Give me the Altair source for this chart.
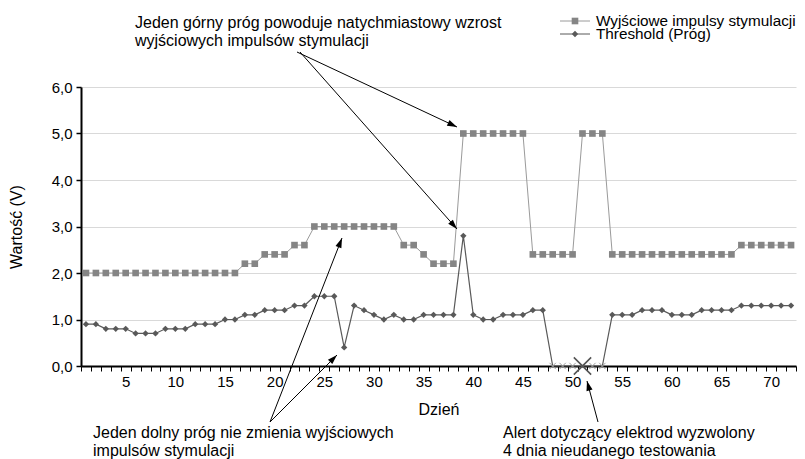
import math
import altair as alt
import pandas as pd

# ---------------- data ----------------
days = list(range(1, 73))
output_v = [
    2.0, 2.0, 2.0, 2.0, 2.0, 2.0, 2.0, 2.0, 2.0, 2.0, 2.0, 2.0, 2.0, 2.0, 2.0, 2.0,
    2.2, 2.2, 2.4, 2.4, 2.4, 2.6, 2.6,
    3.0, 3.0, 3.0, 3.0, 3.0, 3.0, 3.0, 3.0, 3.0,
    2.6, 2.6, 2.4, 2.2, 2.2, 2.2,
    5.0, 5.0, 5.0, 5.0, 5.0, 5.0, 5.0,
    2.4, 2.4, 2.4, 2.4, 2.4,
    5.0, 5.0, 5.0,
    2.4, 2.4, 2.4, 2.4, 2.4, 2.4, 2.4, 2.4, 2.4, 2.4, 2.4, 2.4, 2.4,
    2.6, 2.6, 2.6, 2.6, 2.6, 2.6,
]
threshold_v = [
    0.9, 0.9, 0.8, 0.8, 0.8, 0.7, 0.7, 0.7, 0.8, 0.8, 0.8, 0.9, 0.9, 0.9, 1.0, 1.0,
    1.1, 1.1, 1.2, 1.2, 1.2, 1.3, 1.3,
    1.5, 1.5, 1.5, 0.4, 1.3, 1.2, 1.1, 1.0, 1.1,
    1.0, 1.0, 1.1, 1.1, 1.1, 1.1,
    2.8, 1.1, 1.0, 1.0, 1.1, 1.1, 1.1,
    1.2, 1.2, 0.0, 0.0, 0.0,
    0.0, 0.0, 0.0,
    1.1, 1.1, 1.1, 1.2, 1.2, 1.2, 1.1, 1.1, 1.1, 1.2, 1.2, 1.2, 1.2,
    1.3, 1.3, 1.3, 1.3, 1.3, 1.3,
]
failed_days = [48, 49, 50, 51, 52, 53]
alert_days = [51]
alert_values = [0.0]
series_names = ["Wyjściowe impulsy stymulacji", "Threshold (Próg)"]
y_ticks = [0, 1, 2, 3, 4, 5, 6]
top_note = ["Jeden górny próg powoduje natychmiastowy wzrost", "wyjściowych impulsów stymulacji"]
low_note = ["Jeden dolny próg nie zmienia wyjściowych", "impulsów stymulacji"]
alert_note = ["Alert dotyczący elektrod wyzwolony", "4 dnia nieudanego testowania"]

df = pd.DataFrame({"day": days, "output": output_v, "threshold": threshold_v})
df["failed"] = df["day"].isin(failed_days)
alert_df = pd.DataFrame({"day": alert_days, "threshold": alert_values})
one = pd.DataFrame({"k": [0]})

# ---------------- layout ----------------
W, H = 715, 279
PAD_L, PAD_T = 73, 79
OX, OY = PAD_L + 8, PAD_T + 8   # page position of plot origin


def vx(p):
    return p - OX


def vy(p):
    return p - OY


FONT = "Liberation Sans"
C_OUT_LINE = "#9a9a9a"
C_OUT_PT = "#858585"
C_THR = "#595959"
ARROW = "M0,0L0.32,1L-0.32,1Z"
XSHAPE = "M-1,-1L1,1M-1,1L1,-1"

x_scale = alt.Scale(type="band", paddingInner=0, paddingOuter=0)
y_scale = alt.Scale(domain=[0, 6], nice=False)

x_axis = alt.Axis(
    title="Dzień", tickBand="extent", labelAngle=0, labelOverlap=False,
    labelExpr="datum.value % 5 == 0 ? datum.label : ''",
    labelFont=FONT, labelFontSize=15, labelColor="black", labelPadding=3,
    tickSize=5, tickColor="black", tickWidth=1,
    domainColor="black", domainWidth=2, grid=False,
    titleFont=FONT, titleFontSize=16, titleFontWeight="normal", titleColor="black",
    titlePadding=12,
)
y_axis = alt.Axis(
    title="Wartość (V)", values=y_ticks,
    labelExpr="replace(format(datum.value, '.1f'), '.', ',')",
    labelFont=FONT, labelFontSize=15, labelColor="black", labelPadding=4,
    tickSize=5, tickColor="black", tickWidth=1.5,
    domainColor="black", domainWidth=2,
    grid=True, gridColor="#d9d9d9", gridWidth=1,
    titleFont=FONT, titleFontSize=16, titleFontWeight="normal", titleColor="black",
    titlePadding=27,
)

X = alt.X("day:O", scale=x_scale, axis=x_axis)
base = alt.Chart(df)

out_line = base.mark_line(color=C_OUT_LINE, strokeWidth=1).encode(
    x=X, y=alt.Y("output:Q", scale=y_scale, axis=y_axis))
out_pts = base.mark_point(shape="square", filled=True, size=44, color=C_OUT_PT, opacity=1).encode(
    x=X, y=alt.Y("output:Q", scale=y_scale, axis=y_axis))
thr_line = base.mark_line(color=C_THR, strokeWidth=1.2).encode(
    x=X, y=alt.Y("threshold:Q", scale=y_scale, axis=y_axis))
thr_pts = base.transform_filter("!datum.failed").mark_point(
    shape="diamond", filled=True, size=40, color=C_THR, opacity=1).encode(
    x=X, y=alt.Y("threshold:Q", scale=y_scale, axis=y_axis))
thr_fail = base.transform_filter("datum.failed").mark_point(
    shape=XSHAPE, filled=False, size=40, color="#a0a0a0", strokeWidth=1, opacity=1).encode(
    x=X, y=alt.Y("threshold:Q", scale=y_scale, axis=y_axis))
alert_x = alt.Chart(alert_df).mark_point(
    shape=XSHAPE, filled=False, size=300, color="#555555", strokeWidth=1.6, opacity=1).encode(
    x=X, y=alt.Y("threshold:Q", scale=y_scale, axis=y_axis))


def arrow(p0, p1):
    x0, y0, x1, y1 = vx(p0[0]), vy(p0[1]), vx(p1[0]), vy(p1[1])
    ang = math.degrees(math.atan2(x1 - x0, -(y1 - y0))) % 360
    line = alt.Chart(one).mark_rule(color="black", strokeWidth=1).encode(
        x=alt.value(x0), y=alt.value(y0), x2=alt.value(x1), y2=alt.value(y1))
    head = alt.Chart(one).mark_point(
        shape=ARROW, filled=True, size=380, color="black", opacity=1, strokeWidth=0,
        angle=ang).encode(x=alt.value(x1), y=alt.value(y1))
    return [line, head]


def note(lines, px, py, size=16):
    return alt.Chart(one).mark_text(
        align="left", baseline="alphabetic", font=FONT, fontSize=size, lineHeight=18,
        color="black").encode(x=alt.value(vx(px)), y=alt.value(vy(py)), text=alt.value(lines))


def legend_entry(name, py, shape, size, pcol, lcol):
    lx0, lx1, mx = 560, 590, 575
    ln = alt.Chart(one).mark_rule(color=lcol, strokeWidth=1).encode(
        x=alt.value(vx(lx0)), x2=alt.value(vx(lx1)), y=alt.value(vy(py)))
    pt = alt.Chart(one).mark_point(shape=shape, filled=True, size=size, color=pcol, opacity=1).encode(
        x=alt.value(vx(mx)), y=alt.value(vy(py)))
    tx = alt.Chart(one).mark_text(
        align="left", baseline="middle", font=FONT, fontSize=15.3, color="black").encode(
        x=alt.value(vx(596)), y=alt.value(vy(py)), text=alt.value(name))
    return [ln, pt, tx]


layers = [out_line, thr_line, out_pts, thr_pts, thr_fail, alert_x]
layers += arrow((297, 52), (457, 127))
layers += arrow((300, 52), (457, 229))
layers += arrow((270, 422), (342, 238))
layers += arrow((270, 422), (337, 355))
layers += arrow((598, 422), (587, 381))
layers += [note(top_note, 135, 28), note(low_note, 93, 438), note(alert_note, 503, 438)]
layers += legend_entry(series_names[0], 21, "square", 44, C_OUT_PT, C_OUT_LINE)
layers += legend_entry(series_names[1], 34, "diamond", 40, C_THR, C_THR)

chart = alt.layer(*layers).properties(
    width=W, height=H,
    autosize=alt.AutoSizeParams(type="none"),
    padding={"left": PAD_L, "top": PAD_T, "right": 1, "bottom": 93},
    background="white",
).configure_view(strokeWidth=0)

chart.save("out.html", embed_options={"renderer": "svg", "actions": False})
